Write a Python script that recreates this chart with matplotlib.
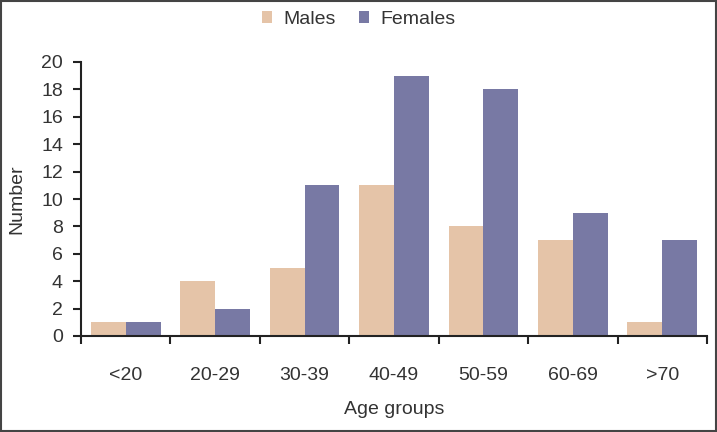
import numpy as np
import matplotlib.pyplot as plt
from matplotlib.patches import Rectangle

plt.rcParams['font.family'] = ['Liberation Sans', 'DejaVu Sans']

ageGroups = ["<20", "20-29", "30-39", "40-49", "50-59", "60-69", ">70"]
males = [1, 4, 5, 11, 8, 7, 1]
females = [1, 2, 11, 19, 18, 9, 7]

maleColor = "#E5C4A8"
femaleColor = "#7879A4"
fs = 14

fig = plt.figure(figsize=(7.17, 4.32), dpi=100)
ax = fig.add_axes([81 / 717, 1 - 336 / 432, 626 / 717, 274 / 432])

x = np.arange(len(ageGroups))
barWidth = 0.39
ax.bar(x - barWidth / 2, males, barWidth, color=maleColor, label="Males")
ax.bar(x + barWidth / 2, females, barWidth, color=femaleColor, label="Females")

ax.set_xlim(-0.5, len(ageGroups) - 0.5)
ax.set_ylim(0, 20)
ax.set_yticks(range(0, 21, 2))

# category boundaries get the tick marks, labels sit in the middle
ax.set_xticks(np.arange(-0.5, len(ageGroups), 1.0))
ax.set_xticklabels([])
ax.set_xticks(x, minor=True)
ax.set_xticklabels(ageGroups, minor=True)
ax.tick_params(axis='x', which='major', direction='out', length=6, width=1.5, color='#222222')
ax.tick_params(axis='x', which='minor', length=0, pad=22.5, labelsize=fs, labelcolor='#333333')
ax.tick_params(axis='y', direction='out', length=6, width=1.5, color='#222222', labelsize=fs,
               labelcolor='#333333', pad=7)

for side in ['top', 'right']:
    ax.spines[side].set_visible(False)
for side in ['left', 'bottom']:
    ax.spines[side].set_linewidth(1.5)
    ax.spines[side].set_color('#222222')

ax.set_xlabel("Age groups", fontsize=fs, color='#333333', labelpad=12)
ax.set_ylabel("Number", fontsize=fs, color='#333333', labelpad=11.5)

fig.legend(loc='upper center', bbox_to_anchor=(0.5, 1.015), ncol=2, frameon=False, fontsize=fs,
           handlelength=0.55, handleheight=0.55, columnspacing=1.2, handletextpad=0.55,
           labelcolor='#333333')

# thin frame around the whole picture
fig.patches.append(Rectangle((0.001, 0.002), 0.998, 0.996, transform=fig.transFigure,
                             fill=False, edgecolor='#444444', linewidth=1.5))

fig.savefig("out.png", dpi=100)
